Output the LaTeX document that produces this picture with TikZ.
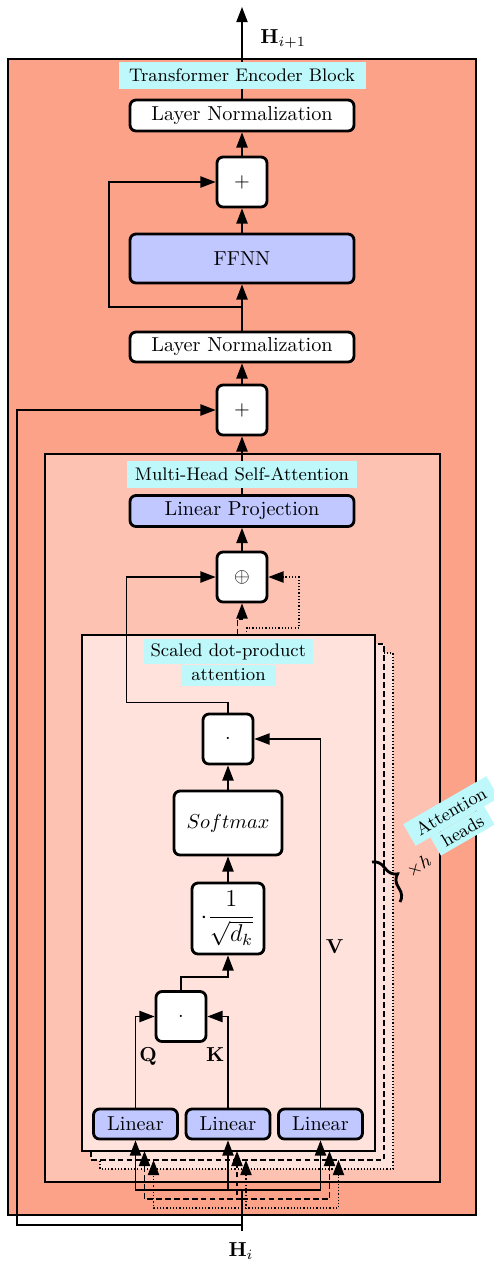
\documentclass[tikz,border=0pt]{standalone}
\usepackage{amsmath}
\usetikzlibrary{arrows.meta,decorations.pathreplacing,calc}
\definecolor{outerc}{RGB}{252,162,136}
\definecolor{midc}{RGB}{254,194,178}
\definecolor{innerc}{RGB}{255,226,219}
\definecolor{lblc}{RGB}{190,248,250}
\definecolor{bluec}{RGB}{192,200,255}
\newcommand{\pxlen}{0.4945pt}
\pgfdeclarelayer{bg}
\pgfdeclarelayer{lines}
\pgfsetlayers{bg,lines,main}
\begin{document}
\begin{tikzpicture}[x=0.4945pt,y=-0.4945pt,
  conn/.style={line width=0.6pt,-{Triangle[length=7.5pt,width=5.6pt]}},
  plain/.style={line width=0.6pt},
  blk/.style={draw,line width=1.4pt,rounded corners=3pt,fill=white,inner sep=0pt},
  blkb/.style={blk,fill=bluec},
  lbl/.style={fill=lblc,inner sep=0pt,font=\small},
  cont/.style={draw,line width=0.6pt},
  dashd/.style={dash pattern=on 2.8pt off 1.6pt},
]
\useasboundingbox (0,0) rectangle (494,1262);

% ---------- nodes ----------
\node[blk,minimum width=224*\pxlen,minimum height=31*\pxlen] (lnTop) at (242,115.5) {Layer Normalization};
\node[blk,minimum width=50*\pxlen,minimum height=50*\pxlen] (plusTop) at (242,182) {$+$};
\node[blkb,minimum width=224*\pxlen,minimum height=49*\pxlen] (ffnn) at (242,258.5) {FFNN};
\node[blk,minimum width=224*\pxlen,minimum height=30*\pxlen] (lnMid) at (242,347) {Layer Normalization};
\node[blk,minimum width=50*\pxlen,minimum height=50*\pxlen] (plusMid) at (242,410) {$+$};
\node[blkb,minimum width=224*\pxlen,minimum height=31*\pxlen] (linproj) at (242,511) {Linear Projection};
\node[blk,minimum width=50*\pxlen,minimum height=50*\pxlen] (oplus) at (242,577) {$\oplus$};
\node[blk,minimum width=50*\pxlen,minimum height=50*\pxlen] (dotAV) at (228,739) {$\cdot$};
\node[blk,minimum width=108*\pxlen,minimum height=64*\pxlen] (softmax) at (228,823) {$Softmax$};
\node[blk,minimum width=72*\pxlen,minimum height=71*\pxlen,font=\large] (scale) at (228,918.5) {$\cdot\dfrac{1}{\sqrt{d_k}}$};
\node[blk,minimum width=50*\pxlen,minimum height=50*\pxlen] (dotQK) at (181,1016.5) {$\cdot$};
\node[blkb,minimum width=84*\pxlen,minimum height=30*\pxlen] (linQ) at (135.5,1124) {Linear};
\node[blkb,minimum width=84*\pxlen,minimum height=30*\pxlen] (linK) at (228,1124) {Linear};
\node[blkb,minimum width=84*\pxlen,minimum height=30*\pxlen] (linV) at (320.5,1124) {Linear};

% labels
\node[lbl,minimum width=247*\pxlen,minimum height=27*\pxlen] (tebLabel) at (242,75.5) {Transformer Encoder Block};
\node[lbl,minimum width=230*\pxlen,minimum height=27*\pxlen] (mhsaLabel) at (242,474) {Multi-Head Self-Attention};
\node[lbl,minimum width=169*\pxlen,minimum height=25*\pxlen] (sdpLabelA) at (228.3,651.8) {Scaled dot-product};
\node[lbl,minimum width=95*\pxlen,minimum height=21*\pxlen] (sdpLabelB) at (228.5,675) {attention};
\node[lbl,rotate=30,minimum width=62*\pxlen,minimum height=21*\pxlen] (ahB) at (462.5,831) {heads};
\node[lbl,rotate=30,minimum width=96*\pxlen,minimum height=25*\pxlen] (ahA) at (451,811) {Attention};
\node[rotate=30,font=\small,inner sep=0pt] (xh) at (419,866) {$\times h$};

\node[anchor=base west] (hout) at (253.3,43.7) {$\mathbf{H}_{i+1}$};
\node[anchor=base] (hinl) at (241,1256.7) {$\mathbf{H}_i$};
\node[anchor=base] (qlab) at (148,1061) {$\mathbf{Q}$};
\node[anchor=base] (klab) at (215.3,1061) {$\mathbf{K}$};
\node[anchor=base] (vlab) at (334.7,953.3) {$\mathbf{V}$};

% coordinates
\coordinate (out) at (242,7);
\coordinate (hin) at (242,1231);
\coordinate (hres) at (242,1225);
\coordinate (hj) at (242,1190);
\coordinate (hjd) at (242,1199);
\coordinate (hjp) at (242,1208);
\coordinate (dQ) at (144.5,1151);
\coordinate (dK) at (237,1151);
\coordinate (dV) at (329.5,1151);
\coordinate (pQ) at (153.5,1160);
\coordinate (pK) at (246,1160);
\coordinate (pV) at (338.5,1160);
\coordinate (r1) at (242,307);
\coordinate (dOut) at (237.5,635);
\coordinate (pOut) at (246.5,635);
\coordinate (brA) at (372,862);
\coordinate (brB) at (400,902);

% ---------- containers ----------
\begin{pgfonlayer}{bg}
\draw[cont,fill=outerc] (8,59) rectangle (476,1215);
\draw[cont,fill=midc] (45,454) rectangle (440,1182);
\draw[cont,fill=innerc,densely dotted] (100,653) rectangle (393,1169);
\draw[cont,fill=innerc,dashd] (91,644) rectangle (384,1160);
\draw[cont,fill=innerc] (82,635) rectangle (375,1151);
\end{pgfonlayer}

% ---------- connectors ----------
\begin{pgfonlayer}{lines}
\draw[conn] (lnTop.north) -- (out);
\draw[conn] (plusTop.north) -- (lnTop.south);
\draw[conn] (ffnn.north) -- (plusTop.south);
\draw[conn] (lnMid.north) -- (ffnn.south);
\draw[conn] (r1) -- (109,307) |- (plusTop.west);
\draw[conn] (plusMid.north) -- (lnMid.south);
\draw[conn] (linproj.north) -- (plusMid.south);
\draw[conn] (hres) -- (17,1225) |- (plusMid.west);
\draw[conn] (oplus.north) -- (linproj.south);
\draw[conn] (dotAV.north) -- (228,702.7) -- (126.7,702.7) |- (oplus.west);
\draw[conn,dashd] (dOut) -- (237.5,619) -| (oplus.south);
\draw[conn,densely dotted] (pOut) -- (246.5,628) -- (299,628) |- (oplus.east);
\draw[conn] (softmax.north) -- (dotAV.south);
\draw[conn] (scale.north) -- (softmax.south);
\draw[conn] (dotQK.north) -- (181,977) -| (scale.south);
\draw[conn] (linQ.north) |- (dotQK.west);
\draw[conn] (linK.north) |- (dotQK.east);
\draw[conn] (linV.north) |- (dotAV.east);
\draw[plain] (hin) -- (hj);
\draw[conn] (hj) -| (linQ.south);
\draw[conn] (hj) -| (linK.south);
\draw[conn] (hj) -| (linV.south);
\draw[conn,dashd] (hjd) -| (dQ);
\draw[conn,dashd] (hjd) -| (dK);
\draw[conn,dashd] (hjd) -| (dV);
\draw[conn,densely dotted] (hjp) -| (pQ);
\draw[conn,densely dotted] (hjp) -| (pK);
\draw[conn,densely dotted] (hjp) -| (pV);
\draw[line width=1.4pt,decorate,decoration={brace,amplitude=7pt}] (brA) -- (brB);
\end{pgfonlayer}
\end{tikzpicture}
\end{document}
